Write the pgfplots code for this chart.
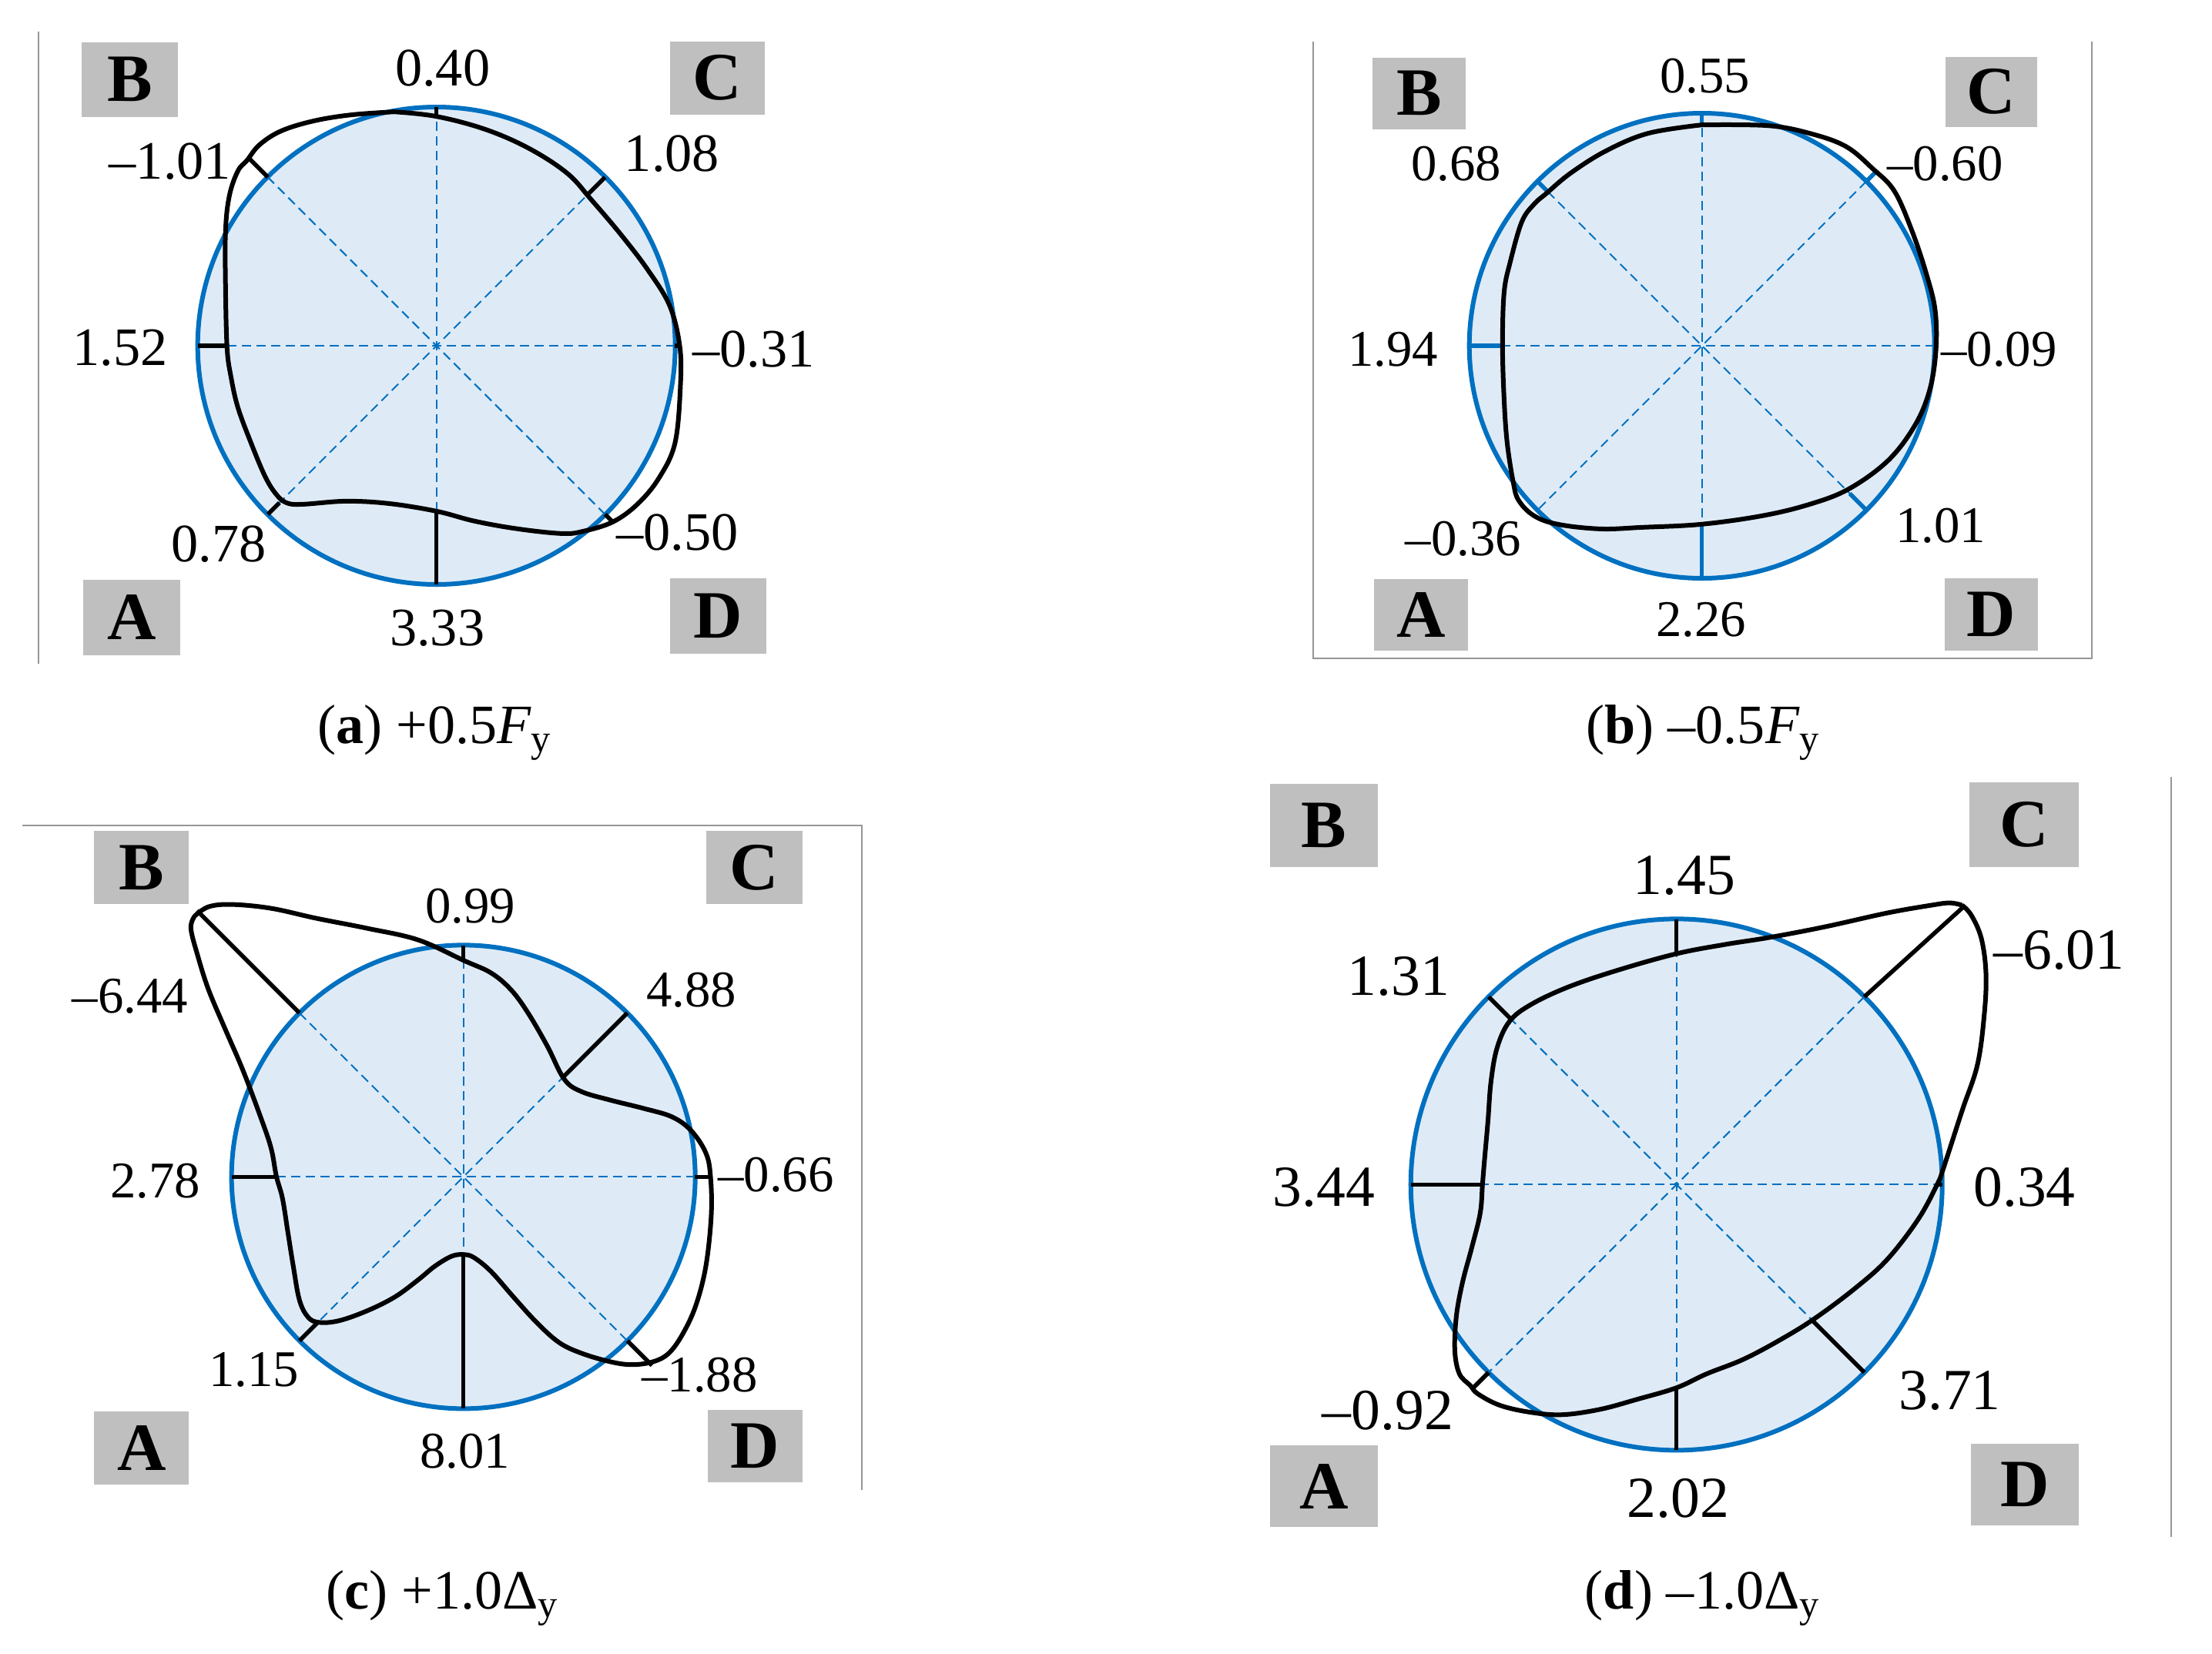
\documentclass[border=0pt]{standalone}
\usepackage{pgfplots}
\pgfplotsset{compat=1.18}
\usepackage{fontspec}
\setmainfont{Liberation Serif}
\definecolor{cblue}{RGB}{0,112,192}
\definecolor{fblue}{RGB}{222,235,247}
\definecolor{bgray}{RGB}{191,191,191}
\definecolor{lgray}{RGB}{150,150,150}
\pgfplotsset{
  curve/.style={black, line width=0.06cm, smooth, tension=0.6, mark=none},
  tk/.style={black, line width=0.055cm, mark=none},
  tkb/.style={cblue, line width=0.055cm, mark=none},
}
\tikzset{
  dline/.style={cblue, line width=0.02cm, dash pattern=on 0.12cm off 0.07cm},
  lbox/.style={fill=bgray, inner sep=0pt, font=\fontsize{25}{25}\selectfont\bfseries},
  laba/.style={inner sep=0pt, font=\fontsize{20}{22}\selectfont},
  lab/.style={inner sep=0pt, font=\fontsize{19}{21}\selectfont},
  labd/.style={inner sep=0pt, font=\fontsize{21.5}{23}\selectfont},
  captxt/.style={inner sep=0pt, font=\fontsize{20.5}{22}\selectfont},
  frm/.style={lgray, line width=0.02cm},
}
% #1 cx, #2 cy, #3 radius (cm), #4 diameter (cm)
\newcommand{\basecircle}[4]{%
  \fill[fblue] (axis cs:#1,#2) circle[radius=#3cm];
  \draw[dline] (axis cs:#1,#2) ++(0:#3cm) -- ++(180:#4cm);
  \draw[dline] (axis cs:#1,#2) ++(90:#3cm) -- ++(270:#4cm);
  \draw[dline] (axis cs:#1,#2) ++(45:#3cm) -- ++(225:#4cm);
  \draw[dline] (axis cs:#1,#2) ++(135:#3cm) -- ++(315:#4cm);
  \draw[cblue, line width=0.06cm] (axis cs:#1,#2) circle[radius=#3cm];
}
\begin{document}
\begin{tikzpicture}
\path[use as bounding box] (0,0) rectangle (28.72,21.47);
\begin{axis}[x=0.01cm, y=0.01cm, y dir=reverse, xmin=0, xmax=2872, ymin=0, ymax=2147,
  hide axis, clip=false, anchor=south west, at={(0,0)}]

% ---------- frames ----------
\draw[frm] (axis cs:50,40) -- (axis cs:50,861);
\draw[frm] (axis cs:1706,53) -- (axis cs:1706,854) -- (axis cs:2718,854) -- (axis cs:2718,53);
\draw[frm] (axis cs:29,1071) -- (axis cs:1120,1071) -- (axis cs:1120,1935);
\draw[frm] (axis cs:2821,1008) -- (axis cs:2821,1996);

% ---------- panel (a) ----------
\basecircle{567}{448}{3.10}{6.20}
\addplot[tk] coordinates {(567,138) (567,150)};
\addplot[tk] coordinates {(786,229) (764,251)};
\addplot[tk] coordinates {(877,448) (883,448)};
\addplot[tk] coordinates {(786,667) (797,678)};
\addplot[tk] coordinates {(567,758) (567,663)};
\addplot[tk] coordinates {(348,667) (363,652)};
\addplot[tk] coordinates {(257,448) (295,448)};
\addplot[tk] coordinates {(348,229) (323,204)};
\addplot[curve] coordinates {
(512,144) (567,150) (631,167) (688,192) (737,224) (768,258) (807,304) (842,350)
(870,396) (883,448) (884,499) (877,574) (856,620) (828,654) (796,677) (758,689)
(730,692) (673,686) (617,676) (567,663) (505,653) (449,650) (393,654) (372,652)
(358,640) (344,617) (326,574) (309,528) (300,488) (295,451) (293,373) (293,299)
(298,253) (309,221) (321,207) (337,187) (365,169) (407,156) (456,148) (512,144)};
\node[lbox, minimum width=1.25cm, minimum height=0.97cm] at (axis cs:169,102) {B};
\node[lbox, minimum width=1.23cm, minimum height=0.95cm] at (axis cs:932,100) {C};
\node[lbox, minimum width=1.26cm, minimum height=0.98cm] at (axis cs:171,801) {A};
\node[lbox, minimum width=1.25cm, minimum height=0.98cm] at (axis cs:933,799) {D};
\node[laba] at (axis cs:575,87) {0.40};
\node[laba] at (axis cs:873,198) {1.08};
\node[laba] at (axis cs:221,208) {–1.01};
\node[laba] at (axis cs:156,451) {1.52};
\node[laba] at (axis cs:979,453) {–0.31};
\node[laba] at (axis cs:284,706) {0.78};
\node[laba] at (axis cs:880,691) {–0.50};
\node[laba] at (axis cs:568,815) {3.33};
\node[captxt] at (axis cs:565,951) {(\textbf{a}) +0.5\textit{F}\textsubscript{y}};

% ---------- panel (b) ----------
\basecircle{2211}{448}{3.02}{6.04}
\addplot[tkb] coordinates {(2211,146) (2211,161)};
\addplot[tkb] coordinates {(2425,234) (2436,223)};
\addplot[tkb] coordinates {(2425,662) (2403,640)};
\addplot[tkb] coordinates {(2211,750) (2211,680)};
\addplot[tkb] coordinates {(1909,448) (1952,448)};
\addplot[tkb] coordinates {(1997,234) (2010,247)};
\addplot[curve] coordinates {
(2211,161) (2297,162) (2351,172) (2398,189) (2433,218) (2461,247) (2484,299) (2503,356)
(2514,402) (2515,454) (2507,505) (2488,551) (2453,597) (2402,634) (2351,654) (2289,669)
(2210,680) (2133,684) (2079,686) (2024,680) (1993,669) (1973,649) (1966,626) (1958,574)
(1954,517) (1952,447) (1954,379) (1962,339) (1977,287) (1993,264) (2009,250) (2040,224)
(2086,195) (2141,172) (2211,161)};
\node[lbox, minimum width=1.21cm, minimum height=0.93cm] at (axis cs:1844,120) {B};
\node[lbox, minimum width=1.19cm, minimum height=0.91cm] at (axis cs:2587,118) {C};
\node[lbox, minimum width=1.22cm, minimum height=0.93cm] at (axis cs:1846,798) {A};
\node[lbox, minimum width=1.21cm, minimum height=0.94cm] at (axis cs:2587,797) {D};
\node[lab] at (axis cs:2215,98) {0.55};
\node[lab] at (axis cs:1892,212) {0.68};
\node[lab] at (axis cs:2527,212) {–0.60};
\node[lab] at (axis cs:1810,453) {1.94};
\node[lab] at (axis cs:2597,453) {–0.09};
\node[lab] at (axis cs:1901,699) {–0.36};
\node[lab] at (axis cs:2521,682) {1.01};
\node[lab] at (axis cs:2210,804) {2.26};
\node[captxt] at (axis cs:2213,951) {(\textbf{b}) –0.5\textit{F}\textsubscript{y}};

% ---------- panel (c) ----------
\basecircle{602}{1528}{3.01}{6.02}
\addplot[tk] coordinates {(602,1227) (602,1247)};
\addplot[tk] coordinates {(815,1315) (733,1397)};
\addplot[tk] coordinates {(903,1528) (923,1528)};
\addplot[tk] coordinates {(815,1741) (847,1773)};
\addplot[tk] coordinates {(602,1829) (602,1629)};
\addplot[tk] coordinates {(389,1741) (413,1717)};
\addplot[tk] coordinates {(301,1528) (359,1528)};
\addplot[tk] coordinates {(389,1315) (256,1182)};
\addplot[curve] coordinates {
(253,1189) (271,1177) (301,1174) (352,1179) (411,1192) (477,1205) (543,1220) (603,1247)
(638,1263) (664,1285) (686,1315) (711,1358) (733,1401) (755,1417) (792,1428) (836,1439)
(873,1450) (898,1468) (917,1497) (923,1527) (924,1578) (917,1644) (904,1695) (887,1732)
(869,1757) (849,1768) (821,1772) (792,1768) (755,1757) (726,1743) (697,1717) (667,1684)
(638,1651) (616,1633) (603,1629) (587,1631) (565,1644) (543,1662) (513,1684) (477,1702)
(440,1715) (414,1717) (400,1710) (389,1688) (381,1644) (374,1600) (367,1556) (359,1527)
(352,1490) (337,1446) (315,1388) (293,1337) (271,1285) (257,1241) (248,1205) (253,1189)};
\node[lbox, minimum width=1.23cm, minimum height=0.95cm] at (axis cs:184,1126) {B};
\node[lbox, minimum width=1.25cm, minimum height=0.95cm] at (axis cs:980,1126) {C};
\node[lbox, minimum width=1.23cm, minimum height=0.95cm] at (axis cs:184,1880) {A};
\node[lbox, minimum width=1.23cm, minimum height=0.94cm] at (axis cs:981,1878) {D};
\node[lab] at (axis cs:611,1176) {0.99};
\node[lab] at (axis cs:898,1285) {4.88};
\node[lab] at (axis cs:169,1293) {–6.44};
\node[lab] at (axis cs:202,1533) {2.78};
\node[lab] at (axis cs:1008,1525) {–0.66};
\node[lab] at (axis cs:330,1779) {1.15};
\node[lab] at (axis cs:909,1786) {–1.88};
\node[lab] at (axis cs:604,1885) {8.01};
\node[captxt] at (axis cs:575,2075) {(\textbf{c}) +1.0Δ\textsubscript{y}};

% ---------- panel (d) ----------
\basecircle{2178}{1538}{3.45}{6.90}
\addplot[tk] coordinates {(2178,1193) (2178,1238)};
\addplot[tk] coordinates {(2422,1294) (2552,1176)};
\addplot[tk] coordinates {(2523,1538) (2517,1538)};
\addplot[tk] coordinates {(2422,1782) (2356,1716)};
\addplot[tk] coordinates {(2178,1883) (2178,1802)};
\addplot[tk] coordinates {(1934,1782) (1912,1804)};
\addplot[tk] coordinates {(1833,1538) (1926,1538)};
\addplot[tk] coordinates {(1934,1294) (1963,1323)};
\addplot[curve] coordinates {
(2549,1175) (2561,1188) (2574,1218) (2580,1263) (2578,1315) (2569,1382) (2549,1442) (2525,1516)
(2517,1537) (2492,1583) (2452,1635) (2411,1672) (2359,1711) (2314,1739) (2265,1765) (2217,1784)
(2178,1802) (2127,1817) (2079,1830) (2030,1837) (1989,1834) (1949,1825) (1920,1810) (1910,1799)
(1896,1784) (1890,1754) (1892,1709) (1900,1665) (1912,1620) (1923,1575) (1926,1537) (1929,1501)
(1933,1456) (1937,1404) (1945,1360) (1961,1326) (1989,1304) (2038,1281) (2103,1259) (2178,1238)
(2241,1226) (2298,1217) (2371,1203) (2452,1185) (2509,1175) (2533,1172) (2549,1175)};
\node[lbox, minimum width=1.40cm, minimum height=1.08cm] at (axis cs:1720,1071) {B};
\node[lbox, minimum width=1.42cm, minimum height=1.10cm] at (axis cs:2630,1070) {C};
\node[lbox, minimum width=1.40cm, minimum height=1.06cm] at (axis cs:1720,1930) {A};
\node[lbox, minimum width=1.40cm, minimum height=1.06cm] at (axis cs:2631,1928) {D};
\node[labd] at (axis cs:2188,1136) {1.45};
\node[labd] at (axis cs:1817,1267) {1.31};
\node[labd] at (axis cs:2675,1233) {–6.01};
\node[labd] at (axis cs:1720,1542) {3.44};
\node[labd] at (axis cs:2630,1542) {0.34};
\node[labd] at (axis cs:1803,1832) {–0.92};
\node[labd] at (axis cs:2533,1806) {3.71};
\node[labd] at (axis cs:2180,1946) {2.02};
\node[captxt] at (axis cs:2212,2075) {(\textbf{d}) –1.0Δ\textsubscript{y}};
\end{axis}
\end{tikzpicture}
\end{document}
